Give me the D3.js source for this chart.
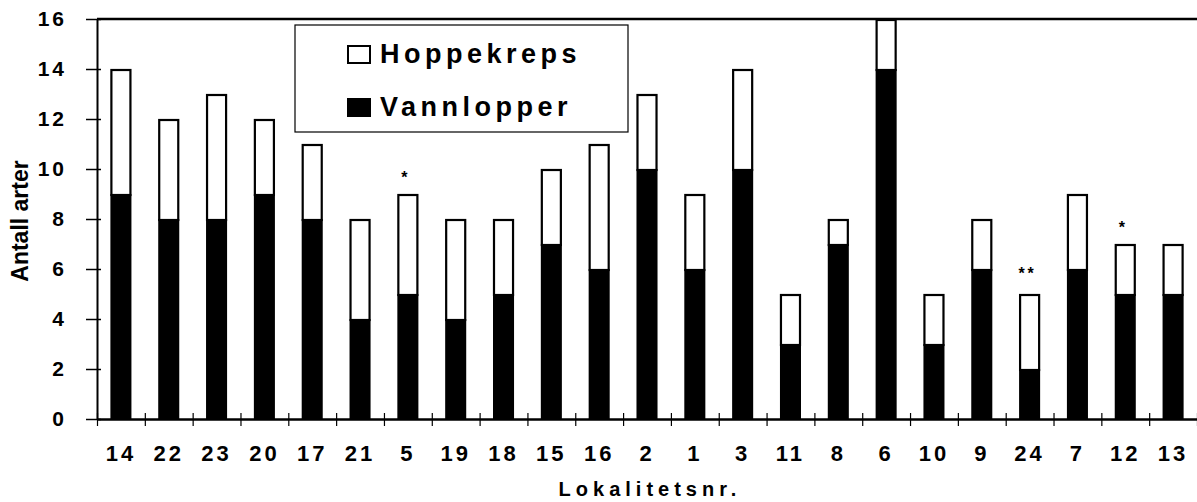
<!DOCTYPE html>
<html>
<head>
<meta charset="utf-8">
<script src="https://cdn.jsdelivr.net/npm/d3@7"></script>
<style>
  body { margin: 0; background: #fff; }
  svg text { font-family: "Liberation Sans", Arial, sans-serif; font-weight: bold; fill: #000; }
</style>
</head>
<body>
<svg id="chart" width="1197" height="502"></svg>
<script>
// data
const sites = ["14","22","23","20","17","21","5","19","18","15","16","2","1","3","11","8","6","10","9","24","7","12","13"];
const vannlopper = [9, 8, 8, 9, 8, 4, 5, 4, 5, 7, 6, 10, 6, 10, 3, 7, 14, 3, 6, 2, 6, 5, 5];
const hoppekreps = [5, 4, 5, 3, 3, 4, 4, 4, 3, 3, 5, 3, 3, 4, 2, 1, 2, 2, 2, 3, 3, 2, 2];
const yTicks = [0, 2, 4, 6, 8, 10, 12, 14, 16];
const stars = [["5", "*"], ["24", "**"], ["12", "*"]];

const svg = d3.select("#chart");
const plotL = 97, plotR = 1197, plotT = 19, plotB = 419;

const x = d3.scaleBand()
  .domain(sites)
  .range([plotL, plotR])
  .paddingInner(0.56)
  .paddingOuter(0.28);

const xEdge = d3.scaleLinear().domain([0, sites.length]).range([plotL, plotR]);

const y = d3.scaleLinear().domain([0, 16]).range([plotB, plotT]);

const rows = sites.map((s, i) => ({ site: s, v: vannlopper[i], h: hoppekreps[i] }));

// top frame line
svg.append("line")
  .attr("x1", plotL).attr("x2", plotR)
  .attr("y1", y(16)).attr("y2", y(16))
  .attr("stroke", "#000").attr("stroke-width", 2.5);

// bars: white part on top, black part at the bottom
const bars = svg.append("g");
bars.selectAll("rect.h")
  .data(rows)
  .join("rect")
  .attr("class", "h")
  .attr("x", d => x(d.site) + 1)
  .attr("width", x.bandwidth() - 2)
  .attr("y", d => y(d.v + d.h) + 1)
  .attr("height", d => y(d.v) - y(d.v + d.h))
  .attr("fill", "#fff")
  .attr("stroke", "#000")
  .attr("stroke-width", 2.2);

bars.selectAll("rect.v")
  .data(rows)
  .join("rect")
  .attr("class", "v")
  .attr("x", d => x(d.site))
  .attr("width", x.bandwidth())
  .attr("y", d => y(d.v))
  .attr("height", d => y(0) - y(d.v))
  .attr("fill", "#000");

// asterisks
svg.selectAll("text.star")
  .data(stars)
  .join("text")
  .attr("class", "star")
  .attr("x", d => x(d[0]) + x.bandwidth() / 2 - 2)
  .attr("y", d => {
    const i = sites.indexOf(d[0]);
    return y(vannlopper[i] + hoppekreps[i]) - (d[1].length > 1 ? 15 : 11);
  })
  .attr("text-anchor", "middle")
  .attr("font-size", 16)
  .attr("letter-spacing", 3)
  .text(d => d[1]);

// y axis
const yAxis = svg.append("g")
  .attr("transform", `translate(${plotL},0)`)
  .call(d3.axisLeft(y).tickValues(yTicks).tickSize(11).tickPadding(19).tickSizeOuter(0));
yAxis.select(".domain").attr("stroke-width", 2);
yAxis.selectAll(".tick line").attr("x1", 4).attr("stroke-width", 1.5);
yAxis.selectAll(".tick text")
  .attr("font-size", 21)
  .attr("letter-spacing", 3)
  .attr("font-family", null);

// x axis: boundary ticks crossing the line
const xAxis = svg.append("g")
  .attr("transform", `translate(0,${plotB})`)
  .call(d3.axisBottom(xEdge).tickValues(d3.range(0, sites.length + 1)).tickFormat("").tickSize(7).tickSizeOuter(0));
xAxis.select(".domain").attr("stroke-width", 2.5);
xAxis.selectAll(".tick line").attr("y1", -6).attr("stroke-width", 1.2);

// x labels
const xLab = svg.append("g")
  .attr("transform", `translate(0,${plotB})`)
  .call(d3.axisBottom(x).tickSize(0).tickPadding(26));
xLab.select(".domain").remove();
xLab.selectAll(".tick text")
  .attr("font-size", 22)
  .attr("letter-spacing", 3)
  .attr("font-family", null);

// axis titles
svg.append("text")
  .attr("transform", "translate(28,221) rotate(-90)")
  .attr("text-anchor", "middle")
  .attr("font-size", 23)
  .text("Antall arter");

svg.append("text")
  .attr("x", (plotL + plotR) / 2 + 3)
  .attr("y", 496)
  .attr("text-anchor", "middle")
  .attr("font-size", 20)
  .attr("letter-spacing", 5)
  .text("Lokalitetsnr.");

// legend
const legend = svg.append("g");
legend.append("rect")
  .attr("x", 295).attr("y", 25)
  .attr("width", 333).attr("height", 107)
  .attr("fill", "#fff").attr("stroke", "#000").attr("stroke-width", 1.2);

const legendItems = [
  { name: "Hoppekreps", fill: "#fff" },
  { name: "Vannlopper", fill: "#000" }
];
const item = legend.selectAll("g.item")
  .data(legendItems)
  .join("g")
  .attr("class", "item")
  .attr("transform", (d, i) => `translate(0,${i * 53})`);
item.append("rect")
  .attr("x", 348).attr("y", 46)
  .attr("width", 22).attr("height", 17)
  .attr("fill", d => d.fill)
  .attr("stroke", "#000").attr("stroke-width", 2);
item.append("text")
  .attr("x", 380).attr("y", 63)
  .attr("font-size", 27)
  .attr("letter-spacing", 4.5)
  .text(d => d.name);
</script>
</body>
</html>
